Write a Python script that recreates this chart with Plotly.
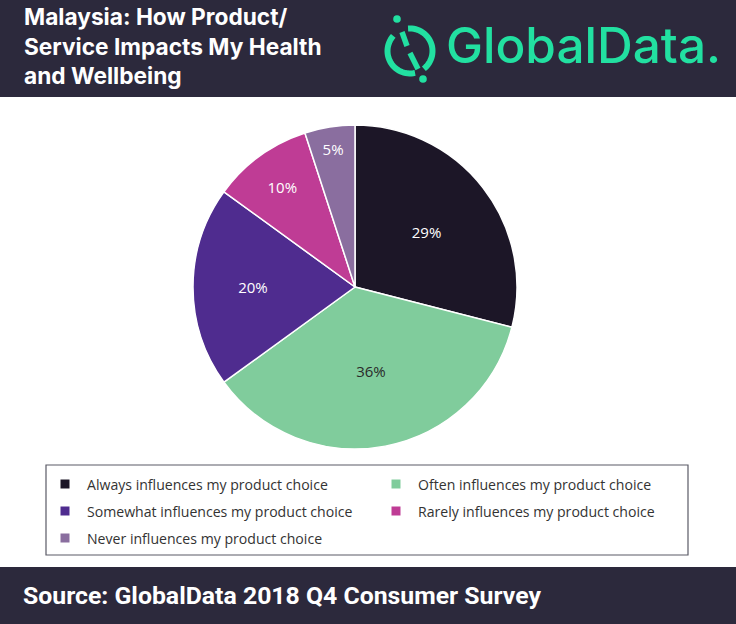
import math
import plotly.graph_objects as go

W, H = 736, 624

categories = [
    "Always influences my product choice",
    "Often influences my product choice",
    "Somewhat influences my product choice",
    "Rarely influences my product choice",
    "Never influences my product choice",
]
values = [29, 36, 20, 10, 5]
colors = ["#1c1627", "#80cc9c", "#4f2c8f", "#bf3c95", "#8a6e9f"]
text_colors = ["#ffffff", "#2a2a2a", "#ffffff", "#ffffff", "#ffffff"]

title_text = "Malaysia: How Product/<br>Service Impacts My Health<br>and Wellbeing"
source_text = "Source: GlobalData 2018 Q4 Consumer Survey"

BAND = "#2c293c"
GREEN = "#22e0a1"


def px(x):
    return x / W


def py(y):
    return 1 - y / H


fig = go.Figure()
fig.add_trace(go.Pie(
    labels=categories,
    values=values,
    sort=False,
    direction="clockwise",
    rotation=0,
    marker=dict(colors=colors, line=dict(color="#ffffff", width=1.5)),
    texttemplate="%{value}%",
    textposition="inside",
    insidetextorientation="horizontal",
    textfont=dict(family="Open Sans", size=15, color=text_colors),
    hoverinfo="label+value",
    domain=dict(x=[px(193), px(517)], y=[py(449), py(125)]),
    showlegend=False,
))

shapes = []
annotations = []
# header and footer bands
shapes.append(dict(type="rect", xref="paper", yref="paper", x0=0, x1=1, y0=py(97), y1=1,
                   fillcolor=BAND, line=dict(width=0), layer="below"))
shapes.append(dict(type="rect", xref="paper", yref="paper", x0=0, x1=1, y0=0, y1=py(567),
                   fillcolor=BAND, line=dict(width=0), layer="below"))
# legend box
shapes.append(dict(type="rect", xref="paper", yref="paper", x0=px(46), x1=px(688), y0=py(555), y1=py(465),
                   fillcolor="rgba(0,0,0,0)", line=dict(color="#5a5a66", width=1.2), layer="below"))

# legend entries (two columns, row-major)
col_marker_x = [65, 396]
row_y = [484, 511, 538]
for i, (lab, col) in enumerate(zip(categories, colors)):
    r_i, c_i = divmod(i, 2)
    mx, my = col_marker_x[c_i], row_y[r_i]
    shapes.append(dict(type="rect", xref="paper", yref="paper", x0=px(mx - 4.5), x1=px(mx + 4.5),
                       y0=py(my + 4.5), y1=py(my - 4.5), fillcolor=col, line=dict(width=0)))
    annotations.append(dict(text=lab, xref="paper", yref="paper", x=px(mx + 20), y=py(my),
                            xanchor="left", yanchor="middle", showarrow=False,
                            font=dict(family="Open Sans", size=14.1, color="#333333")))


# logo icon
def arc_path(cx, cy, r, a0, a1, n=30):
    pts = []
    for i in range(n + 1):
        a = math.radians(a0 + (a1 - a0) * i / n)
        pts.append((px(cx + r * math.cos(a)), py(cy - r * math.sin(a))))
    return "M " + " L ".join(f"{x:.5f},{y:.5f}" for x, y in pts)


cx, cy, r = 410, 51, 22.5
shapes.append(dict(type="path", xref="paper", yref="paper", path=arc_path(cx, cy, r, 95, -52),
                   line=dict(color=GREEN, width=6)))
shapes.append(dict(type="path", xref="paper", yref="paper", path=arc_path(cx, cy, r, 138, 283),
                   line=dict(color=GREEN, width=6)))
shapes.append(dict(type="line", xref="paper", yref="paper", x0=px(402), y0=py(32), x1=px(407), y1=py(46),
                   line=dict(color=GREEN, width=5.5)))
shapes.append(dict(type="line", xref="paper", yref="paper", x0=px(410), y0=py(53), x1=px(418), y1=py(69),
                   line=dict(color=GREEN, width=5.5)))
for (dx, dy) in [(397, 19), (423, 79)]:
    shapes.append(dict(type="circle", xref="paper", yref="paper", x0=px(dx - 3.8), x1=px(dx + 3.8),
                       y0=py(dy + 3.8), y1=py(dy - 3.8), fillcolor=GREEN, line=dict(width=0)))

annotations += [
    dict(text=title_text, xref="paper", yref="paper", x=px(22), y=py(46), xanchor="left", yanchor="middle",
         align="left", showarrow=False,
         font=dict(family="Inter", size=22.7, color="#ffffff", weight="bold")),
    dict(text="GlobalData.", xref="paper", yref="paper", x=px(444), y=py(45), xanchor="left", yanchor="middle",
         showarrow=False, font=dict(family="Inter", size=49.5, color=GREEN, weight=500)),
    dict(text=source_text, xref="paper", yref="paper", x=px(21), y=py(595), xanchor="left", yanchor="middle",
         showarrow=False, font=dict(family="Roboto", size=24.8, color="#ffffff", weight="bold")),
]

fig.update_layout(
    width=W, height=H,
    margin=dict(l=0, r=0, t=0, b=0),
    paper_bgcolor="#ffffff",
    plot_bgcolor="#ffffff",
    shapes=shapes,
    annotations=annotations,
    showlegend=False,
)

fig.write_html("out.html", config={"displayModeBar": False},
               post_script="document.body.style.margin='0';document.body.style.overflow='hidden';")
